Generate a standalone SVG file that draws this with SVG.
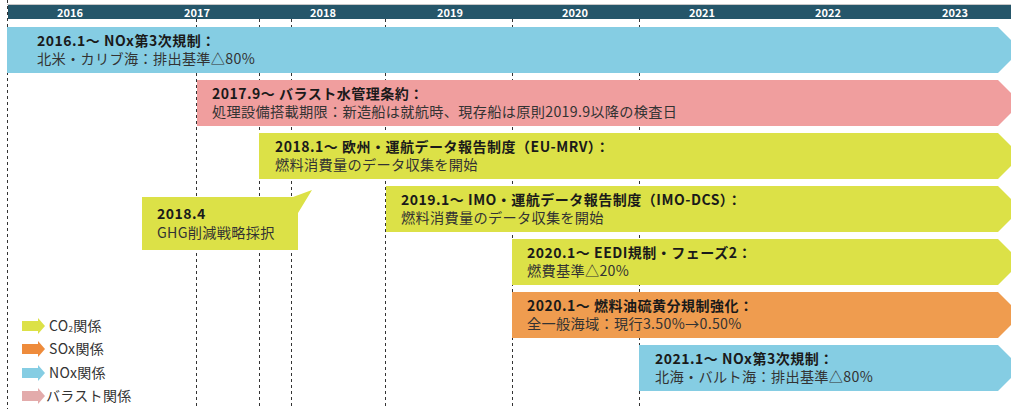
<svg xmlns="http://www.w3.org/2000/svg" width="1011" height="409" viewBox="0 0 1011 409">
<style>
text{font-family:"Noto Sans CJK JP","Noto Sans",sans-serif;}
.yr{fill:#fff;font-size:11px;font-weight:700;text-anchor:middle;}
.t{fill:#1a1a1a;font-size:14px;font-weight:700;letter-spacing:0.5px;}
.s{fill:#333;font-size:14.2px;font-weight:400;letter-spacing:0.3px;}
.lg{fill:#333;font-size:14px;letter-spacing:0.3px;}
.dash{stroke:#333;stroke-width:1;stroke-dasharray:3 3;fill:none;}
.blue{fill:#85CDE3;}
.pink{fill:#F09E9E;}
.yel{fill:#DCE147;}
.org{fill:#EF9C4F;}
</style>
<rect width="1011" height="409" fill="#fff"/>
<g id="gridlines">
<line class="dash" x1="7.5" y1="0" x2="7.5" y2="409"/>
<line class="dash" x1="196.5" y1="19" x2="196.5" y2="409"/>
<line class="dash" x1="259.5" y1="19" x2="259.5" y2="409"/>
<line class="dash" x1="291.5" y1="19" x2="291.5" y2="409"/>
<line class="dash" x1="385.5" y1="19" x2="385.5" y2="409"/>
<line class="dash" x1="512.5" y1="19" x2="512.5" y2="409"/>
<line class="dash" x1="639.5" y1="19" x2="639.5" y2="409"/>
</g>
<g id="header">
<line x1="7" y1="4.5" x2="1011" y2="4.5" stroke="#c8c8c8" stroke-width="1"/>
<rect x="8" y="5" width="1003" height="14" fill="#25566A"/>
<text class="yr" x="70" y="16.5">2016</text>
<text class="yr" x="197" y="16.5">2017</text>
<text class="yr" x="323" y="16.5">2018</text>
<text class="yr" x="450" y="16.5">2019</text>
<text class="yr" x="575" y="16.5">2020</text>
<text class="yr" x="702" y="16.5">2021</text>
<text class="yr" x="828" y="16.5">2022</text>
<text class="yr" x="955" y="16.5">2023</text>
</g>
<g id="bar-2016-nox">
<polygon class="blue" points="7,27 998,27 1021,50 998,73 7,73"/>
<text class="t" x="37" y="45.5">2016.1～ NOx第3次規制：</text>
<text class="s" x="37" y="64">北米・カリブ海：排出基準△80%</text>
</g>
<g id="bar-2017-ballast">
<polygon class="pink" points="197,80 998,80 1021,103 998,126 197,126"/>
<text class="t" x="212" y="98.5">2017.9～ バラスト水管理条約：</text>
<text class="s" x="212" y="117">処理設備搭載期限：新造船は就航時、現存船は原則2019.9以降の検査日</text>
</g>
<g id="bar-2018-eumrv">
<polygon class="yel" points="259,133 998,133 1021,156 998,179 259,179"/>
<text class="t" x="275" y="151.5">2018.1～ 欧州・運航データ報告制度（EU-MRV）：</text>
<text class="s" x="275" y="170">燃料消費量のデータ収集を開始</text>
</g>
<g id="bar-2019-imodcs">
<polygon class="yel" points="386,186 998,186 1021,209 998,232 386,232"/>
<text class="t" x="401" y="204.5">2019.1～ IMO・運航データ報告制度（IMO-DCS）：</text>
<text class="s" x="401" y="223">燃料消費量のデータ収集を開始</text>
</g>
<g id="bar-2020-eedi">
<polygon class="yel" points="512,239 998,239 1021,262 998,285 512,285"/>
<text class="t" x="527" y="257.5">2020.1～ EEDI規制・フェーズ2：</text>
<text class="s" x="527" y="276">燃費基準△20%</text>
</g>
<g id="bar-2020-sox">
<polygon class="org" points="512,292 998,292 1021,315 998,338 512,338"/>
<text class="t" x="527" y="310.5">2020.1～ 燃料油硫黄分規制強化：</text>
<text class="s" x="527" y="329">全一般海域：現行3.50%→0.50%</text>
</g>
<g id="bar-2021-nox">
<polygon class="blue" points="639,345 998,345 1021,368 998,391 639,391"/>
<text class="t" x="655" y="363.5">2021.1～ NOx第3次規制：</text>
<text class="s" x="655" y="382">北海・バルト海：排出基準△80%</text>
</g>
<g id="callout-2018-ghg">
<polygon class="yel" points="142,197 293,197 312,190 298,213 298,250 142,250"/>
<text class="t" x="157" y="218.5">2018.4</text>
<text class="s" x="157" y="238">GHG削減戦略採択</text>
</g>
<g id="legend">
<polygon fill="#DCE147" points="22,321 38,321 38,318 45,326 38,334 38,331 22,331"/>
<text class="lg" x="49" y="331">CO<tspan font-size="8" dy="1">2</tspan><tspan dy="-1">関係</tspan></text>
<polygon fill="#EE8B3B" points="22,344 38,344 38,341 45,349 38,357 38,354 22,354"/>
<text class="lg" x="49" y="354">SOx関係</text>
<polygon fill="#85CDE3" points="22,368 38,368 38,365 45,373 38,381 38,378 22,378"/>
<text class="lg" x="49" y="378">NOx関係</text>
<polygon fill="#E3ABAB" points="22,391 38,391 38,388 45,396 38,404 38,401 22,401"/>
<text class="lg" x="46" y="401">バラスト関係</text>
</g>
</svg>
